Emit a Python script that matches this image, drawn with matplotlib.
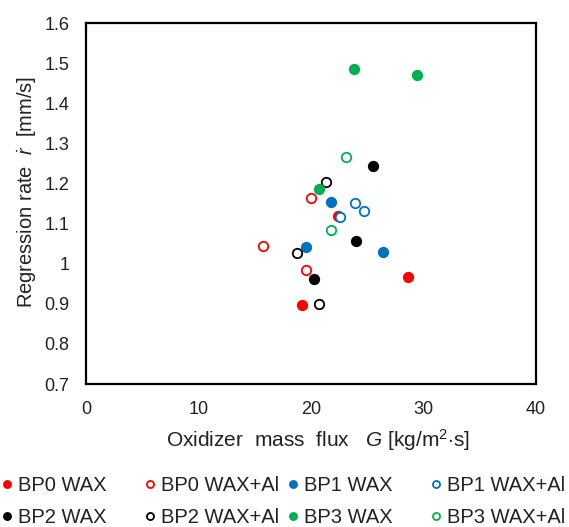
import matplotlib
matplotlib.use('Agg')
import matplotlib.pyplot as plt
from matplotlib.ticker import FuncFormatter

plt.rcParams['font.family'] = ['Liberation Sans', 'DejaVu Sans']
plt.rcParams['mathtext.fontset'] = 'custom'
plt.rcParams['mathtext.rm'] = 'Liberation Sans'
plt.rcParams['mathtext.it'] = 'Liberation Sans:italic'

# data: oxidizer mass flux G and regression rate r
labels = ['BP0 WAX', 'BP0 WAX+Al', 'BP1 WAX', 'BP1 WAX+Al',
          'BP2 WAX', 'BP2 WAX+Al', 'BP3 WAX', 'BP3 WAX+Al']
colors = ['#FF0000', '#FF0000', '#0070C0', '#0070C0',
          '#000000', '#000000', '#00B050', '#00B050']
filled = [True, False, True, False, True, False, True, False]

g_values = [
    [19.2, 22.4, 28.6],
    [15.7, 20.0, 19.6],
    [21.8, 19.6, 26.4],
    [23.9, 24.7, 22.6],
    [25.5, 24.0, 20.3],
    [21.3, 18.8, 20.7],
    [23.8, 29.4, 20.7],
    [23.1, 21.8],
]
r_values = [
    [0.897, 1.119, 0.968],
    [1.044, 1.163, 0.984],
    [1.153, 1.041, 1.029],
    [1.152, 1.131, 1.116],
    [1.244, 1.057, 0.962],
    [1.204, 1.027, 0.900],
    [1.486, 1.470, 1.186],
    [1.267, 1.083],
]

fig = plt.figure(figsize=(5.69, 5.27), dpi=100)
ax = fig.add_axes([0.151, 0.2713, 0.791, 0.685])

handles = []
for lab, c, f, g, r in zip(labels, colors, filled, g_values, r_values):
    h, = ax.plot(g, r, linestyle='none', marker='o', markersize=6.8,
                 markerfacecolor=c if f else 'white', markeredgecolor=c,
                 markeredgewidth=1.3, label=lab)
    handles.append(h)

ax.set_xlim(0, 40)
ax.set_ylim(0.7, 1.6)
ax.set_xticks([0, 10, 20, 30, 40])
ax.set_yticks([0.7, 0.8, 0.9, 1.0, 1.1, 1.2, 1.3, 1.4, 1.5, 1.6])
ax.yaxis.set_major_formatter(FuncFormatter(lambda v, p: '%g' % round(v, 1)))
ax.tick_params(length=0, labelsize=13, colors='#222222')
ax.tick_params(axis='x', pad=12.5)
ax.tick_params(axis='y', pad=12)
for s in ax.spines.values():
    s.set_linewidth(1.6)

ax.set_xlabel('Oxidizer  mass  flux   $G$ [kg/m$^2$$\\cdot$s]', fontsize=15,
              color='#222222')
ax.xaxis.set_label_coords(0.515, -0.12)
ax.set_ylabel('Regression rate  $\\dot{r}$  [mm/s]', fontsize=14.5,
              color='#222222')
ax.yaxis.set_label_coords(-0.105, 0.533)

# legend: four fixed-width columns, two rows (row-major like the original)
col_x = [7, 150, 293, 436]
for i, x in enumerate(col_x):
    lg = fig.legend(handles=[handles[i], handles[i + 4]],
                    labels=[labels[i], labels[i + 4]],
                    loc='upper left', bbox_to_anchor=((x - 8) / 569, 1 - 476 / 527),
                    frameon=False, fontsize=14.5, handlelength=0.8,
                    handletextpad=0.15, markerscale=0.75, labelspacing=0.65,
                    borderpad=0, borderaxespad=0, labelcolor='#222222')

fig.savefig('out.png', dpi=100)
